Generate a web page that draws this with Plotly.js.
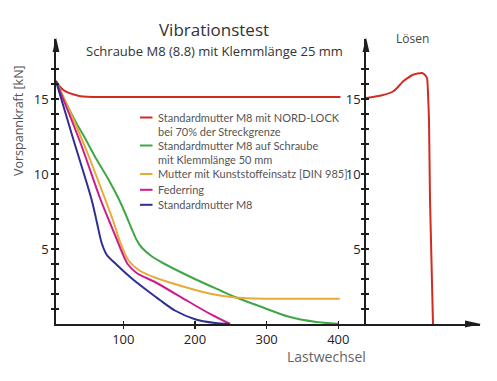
<!DOCTYPE html>
<html>
<head>
<meta charset="utf-8">
<script src="https://cdn.plot.ly/plotly-3.0.1.min.js"></script>
<style>html,body{margin:0;padding:0;background:#fff;}#chart{width:497px;height:381px;}</style>
</head>
<body>
<div id="chart"></div>
<script>
// ---------- data ----------
const seriesNames = [
  "Standardmutter M8 mit NORD-LOCK<br>bei 70% der Streckgrenze",
  "Standardmutter M8 auf Schraube<br>mit Klemmlänge 50 mm",
  "Mutter mit Kunststoffeinsatz [DIN 985]",
  "Federring",
  "Standardmutter M8"
];
const xNordLock = [6, 11, 16.3, 23, 30.2, 37, 44, 58, 80, 150, 250, 350, 403];
const yNordLock = [16.2, 15.85, 15.6, 15.42, 15.31, 15.22, 15.17, 15.14, 15.13, 15.13, 15.13, 15.13, 15.13];
const xKlemm50 = [6, 20, 32.6, 46.4, 60, 81.4, 94, 102, 111.6, 118.6, 125.6, 140, 155.8, 202, 237, 256, 283.7, 297.7, 330, 367, 400];
const yKlemm50 = [16.2, 14.75, 13.55, 12.4, 11.2, 9.45, 8.3, 7.45, 6.35, 5.6, 5.1, 4.5, 4.05, 2.95, 2.2, 1.8, 1.3, 1.05, 0.5, 0.15, 0.02];
const xDin985 = [6, 30.2, 50, 74.4, 86, 95.3, 107, 123, 144, 190.7, 223, 256, 297.7, 350, 402];
const yDin985 = [16.2, 13.65, 11.4, 8.35, 6.85, 5.5, 4.25, 3.55, 3.1, 2.4, 2.0, 1.77, 1.69, 1.68, 1.68];
const xFederring = [6, 40, 67.4, 80, 90, 98, 106, 118.6, 144, 190.7, 223, 249];
const yFederring = [16.2, 12.1, 8.4, 6.9, 5.75, 4.8, 4.0, 3.4, 2.8, 1.5, 0.62, 0];
const xStandard = [6, 30, 55.8, 63, 69.8, 76.8, 90.7, 114, 137, 151, 172, 200, 228, 248];
const yStandard = [16.2, 12.35, 8.29, 6.8, 5.4, 4.62, 3.95, 2.95, 2.1, 1.6, 0.9, 0.32, 0.07, 0];
// Lösen panel (relative time units)
const xLoesen = [0, 14, 27, 32, 37, 47, 56, 59, 61, 62, 63, 64, 67];
const yLoesen = [15.07, 15.22, 15.5, 15.8, 16.17, 16.62, 16.73, 16.6, 16.4, 15.4, 13.6, 8.3, 0];

const xTickVals = [100, 200, 300, 400];
const yTickVals = [1,2,3,4,5,6,7,8,9,10,11,12,13,14,15,16,17];
const yTickText = yTickVals.map(v => (v % 5 === 0 ? String(v) : ''));

// ---------- style ----------
const colors = ['#d32b22', '#3fa748', '#e9aa38', '#cc1d8c', '#2e3091'];
const FONT = 'Open Sans, Noto Sans, sans-serif';
const LEGFONT = 'Lato, Open Sans, sans-serif';
const W = 497, H = 381, ML = 56, MR = 17, MT = 39, MB = 57;
const PW = W - ML - MR, PH = H - MT - MB;
const px2x = p => (p - ML) / PW;
const px2y = p => (H - MB - p) / PH;
const splitFrac = px2x(366);
const axisColor = '#1e1e1e';

const seriesX = [xNordLock, xKlemm50, xDin985, xFederring, xStandard];
const seriesY = [yNordLock, yKlemm50, yDin985, yFederring, yStandard];

const traces = seriesX.map((xs, i) => ({
  type: 'scatter', mode: 'lines', x: xs, y: seriesY[i], name: seriesNames[i],
  line: {color: colors[i], width: 2, shape: 'spline', smoothing: 0.8},
  xaxis: 'x', yaxis: 'y', showlegend: false, hoverinfo: 'skip'
}));
traces.push({
  type: 'scatter', mode: 'lines', x: xLoesen, y: yLoesen, name: 'Lösen',
  line: {color: colors[0], width: 2, shape: 'spline', smoothing: 0.5},
  xaxis: 'x2', yaxis: 'y2', showlegend: false, hoverinfo: 'skip'
});
// helper empty traces for crossing ticks
traces.push({type:'scatter', x:[], y:[], xaxis:'x3', yaxis:'y', showlegend:false});
traces.push({type:'scatter', x:[], y:[], xaxis:'x', yaxis:'y3', showlegend:false});
traces.push({type:'scatter', x:[], y:[], xaxis:'x2', yaxis:'y4', showlegend:false});

const tickFont = {family: FONT, size: 13, color: '#222'};
const yBase = {
  range: [0, 19], showgrid: false, zeroline: false, showline: true,
  linecolor: axisColor, linewidth: 1.8, ticks: 'outside', ticklen: 3, tickwidth: 1.3,
  tickcolor: axisColor, tickmode: 'array', tickvals: yTickVals, ticktext: yTickText,
  tickfont: tickFont, fixedrange: true
};
const yOver = {
  range: [0, 19], showgrid: false, zeroline: false, showline: false,
  ticks: 'inside', ticklen: 3, tickwidth: 1.3, tickcolor: axisColor,
  tickmode: 'array', tickvals: yTickVals, showticklabels: false
};

const annotations = [
  {text: 'Schraube M8 (8.8) mit Klemmlänge 25 mm', x: px2x(214), y: px2y(50.5), font: {family: FONT, size: 13, color: '#333'}},
  {text: 'Lösen', x: px2x(412), y: px2y(38), font: {family: FONT, size: 12, color: '#444'}},
  {text: 'Vorspannkraft [kN]', x: px2x(18), y: px2y(121), textangle: -90, font: {family: FONT, size: 12.5, color: '#555'}},
  {text: 'Lastwechsel', x: px2x(326.5), y: px2y(356.5), font: {family: FONT, size: 14, color: '#666'}}
].map(a => Object.assign({xref: 'paper', yref: 'paper', showarrow: false, xanchor: 'center', yanchor: 'middle'}, a));

// legend (drawn as annotations + swatches)
const legendLineY = [116, 144, 172.5, 188.3, 203.3];
const shapes = [];
seriesNames.forEach((nm, i) => {
  annotations.push({
    xref: 'paper', yref: 'paper', showarrow: false, xanchor: 'left', yanchor: 'top', align: 'left',
    x: px2x(156), y: px2y(legendLineY[i] - 7.5), text: nm,
    font: {family: LEGFONT, size: 11, color: '#555'}
  });
  shapes.push({
    type: 'line', xref: 'paper', yref: 'paper',
    x0: px2x(140), x1: px2x(152.5), y0: px2y(legendLineY[i] + 1.5), y1: px2y(legendLineY[i] + 1.5),
    line: {color: colors[i], width: 2}
  });
});
// arrowheads
const arrowY = xa => ({type: 'path', xref: 'paper', yref: 'paper', xsizemode: 'pixel', ysizemode: 'pixel',
  xanchor: xa, yanchor: 1, path: 'M-3.4,-13 L0,1.5 L3.4,-13 Z', fillcolor: axisColor, line: {width: 0}});
shapes.push(arrowY(0), arrowY(splitFrac));
shapes.push({type: 'path', xref: 'paper', yref: 'paper', xsizemode: 'pixel', ysizemode: 'pixel',
  xanchor: 1, yanchor: 0, path: 'M-15,3.4 L1,0 L-15,-3.4 Z', fillcolor: axisColor, line: {width: 0}});

const layout = {
  width: W, height: H,
  margin: {l: ML, r: MR, t: MT, b: MB, pad: 0},
  paper_bgcolor: '#fff', plot_bgcolor: 'rgba(0,0,0,0)',
  showlegend: false,
  title: {text: 'Vibrationstest', x: 214 / W, xref: 'container', xanchor: 'center',
          y: 1 - 30 / H, yref: 'container', yanchor: 'middle',
          font: {family: FONT, size: 17, color: '#333'}},
  xaxis: {domain: [0, splitFrac], range: [6.07, 438.6], anchor: 'y', showgrid: false, zeroline: false,
          showline: true, linecolor: axisColor, linewidth: 1.8, ticks: 'outside', ticklen: 3,
          tickwidth: 1.3, tickcolor: axisColor, tickmode: 'array', tickvals: xTickVals,
          tickfont: tickFont, fixedrange: true},
  xaxis3: {overlaying: 'x', anchor: 'y', range: [6.07, 438.6], showgrid: false, zeroline: false,
           showline: false, ticks: 'inside', ticklen: 3, tickwidth: 1.3, tickcolor: axisColor,
           tickmode: 'array', tickvals: xTickVals, showticklabels: false},
  xaxis2: {domain: [splitFrac, 1], range: [0, 114], anchor: 'y2', showgrid: false, zeroline: false,
           showline: true, linecolor: axisColor, linewidth: 1.8, ticks: '', showticklabels: false,
           fixedrange: true},
  yaxis: Object.assign({}, yBase, {anchor: 'x', domain: [0, 1]}),
  yaxis3: Object.assign({}, yOver, {overlaying: 'y', anchor: 'x', side: 'left'}),
  yaxis2: Object.assign({}, yBase, {anchor: 'x2', domain: [0, 1], ticklabelstandoff: -2}),
  yaxis4: Object.assign({}, yOver, {overlaying: 'y2', anchor: 'x2', side: 'left'}),
  annotations: annotations,
  shapes: shapes
};

Plotly.newPlot('chart', traces, layout, {displayModeBar: false, staticPlot: true});
</script>
</body>
</html>
